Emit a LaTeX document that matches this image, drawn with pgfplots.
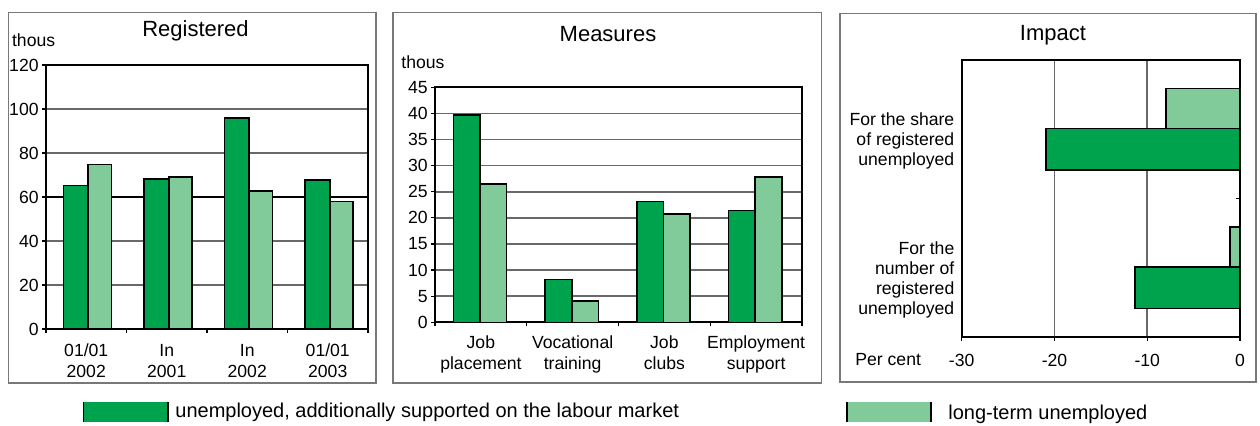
\documentclass[border=0pt]{standalone}
\usepackage{fontspec}
\setmainfont{Liberation Sans}
\usepackage{pgfplots}
\pgfplotsset{compat=1.18}
\definecolor{darkg}{RGB}{0,163,77}
\definecolor{lightg}{RGB}{129,203,155}
\definecolor{gridc}{RGB}{105,105,105}
\definecolor{framec}{RGB}{120,120,120}
\pgfplotsset{
 panel/.style={scale only axis, anchor=south west,
   axis line style={line width=0.9pt},
   /pgf/number format/assume math mode=true,
   tick style={black, line width=0.6pt}, tick align=outside,
   major tick length=2pt, minor tick length=2pt,
   grid style={gridc, line width=0.8pt},
   ticklabel style={font=\fontsize{8.8}{10}\selectfont, inner sep=1.5pt},
 },
 dbar/.style={fill=darkg, draw=black, line width=0.8pt},
 lbar/.style={fill=lightg, draw=black, line width=0.8pt},
}
\begin{document}
\begin{tikzpicture}[x=1pt,y=1pt]
\useasboundingbox (0,0) rectangle (630,212.5);
% panel frames
\draw[framec, line width=0.6pt] (4.15,21) rectangle (188,206.35);
\draw[framec, line width=0.6pt] (196.5,21) rectangle (410.85,206.35);
\draw[framec, line width=0.6pt] (420,21.5) rectangle (628,205.85);
% titles
\node[anchor=base, inner sep=0, font=\fontsize{11}{13}\selectfont] at (97.75,194.15) {Registered};
\node[anchor=base, inner sep=0, font=\fontsize{11}{13}\selectfont] at (304,192) {Measures};
\node[anchor=base, inner sep=0, font=\fontsize{11}{13}\selectfont] at (526.5,192.5) {Impact};
\node[anchor=base west, inner sep=0, font=\fontsize{8.8}{10}\selectfont] at (5.85,189.5) {thous};
\node[anchor=base west, inner sep=0, font=\fontsize{8.8}{10}\selectfont] at (200.5,178.3) {thous};
\node[anchor=base west, inner sep=0, font=\fontsize{8.8}{10}\selectfont] at (427.5,30) {Per cent};

% Panel 1: Registered
\begin{axis}[panel, at={(23pt,48pt)}, width=161pt, height=132pt,
  ybar, xmin=-0.5, xmax=3.5, ymin=0, ymax=120, ytick={0,20,...,120},
  xtick={0,1,2,3},
  xticklabels={{01/01\\2002},{In\\2001},{In\\2002},{01/01\\2003}},
  xticklabel style={align=center, font=\fontsize{8.8}{10.5}\selectfont, yshift=-3.8pt},
  major x tick style={draw=none}, minor xtick={-0.5,0.5,1.5,2.5,3.5},
  xtick pos=bottom, ytick pos=left,
  ymajorgrids,
  extra y ticks={60}, extra y tick labels={}, extra y tick style={grid style={black, line width=0.8pt}},
]
\addplot[dbar, bar width=0.31, bar shift=-0.13] coordinates {(0,65.2) (1,68.3) (2,95.8) (3,67.6)};
\addplot[lbar, bar width=0.29, bar shift=0.17] coordinates {(0,74.8) (1,69.2) (2,62.7) (3,57.9)};
\end{axis}

% Panel 2: Measures
\begin{axis}[panel, at={(217.5pt,51.35pt)}, width=183.5pt, height=117.5pt,
  ybar, xmin=-0.5, xmax=3.5, ymin=0, ymax=45, ytick={0,5,...,45},
  xtick={0,1,2,3},
  xticklabels={{Job\\placement},{Vocational\\training},{Job\\clubs},{Employment\\support}},
  xticklabel style={align=center, font=\fontsize{8.8}{10.5}\selectfont, yshift=-3pt},
  major x tick style={draw=none}, minor xtick={-0.5,0.5,1.5,2.5,3.5},
  xtick pos=bottom, ytick pos=left,
  ymajorgrids,
]
\addplot[dbar, bar width=0.29, bar shift=-0.155] coordinates {(0,39.7) (1,8.2) (2,23.1) (3,21.4)};
\addplot[lbar, bar width=0.29, bar shift=0.135] coordinates {(0,26.5) (1,4.1) (2,20.7) (3,27.8)};
\end{axis}

% Panel 3: Impact
\begin{axis}[panel, at={(480.85pt,44.15pt)}, width=139.15pt, height=138.35pt,
  xbar, xmin=-30, xmax=0, xtick={-30,-20,-10,0},
  ymin=-0.5, ymax=1.5, ytick={0,1},
  yticklabels={{For the\\number of\\registered\\unemployed},{For the share\\of registered\\unemployed}},
  yticklabel style={align=right, font=\fontsize{8.8}{10}\selectfont, yshift=-6pt},
  xticklabel style={yshift=-5pt},
  major y tick style={draw=none}, minor ytick={0.5},
  xtick pos=bottom, ytick pos=right, yticklabel pos=left,
  minor y tick style={xshift=-2pt},
  xmajorgrids,
]
\addplot[dbar, bar width=0.30, bar shift=-0.145] coordinates {(-20.9,1) (-11.3,0)};
\addplot[lbar, bar width=0.29, bar shift=0.15] coordinates {(-8,1) (-1.1,0)};
\end{axis}

% legend
\fill[darkg] (41.65,1.65) rectangle (84,11.65);
\draw[black, line width=0.8pt] (41.65,1.65) -- (41.65,11.65) (84,1.65) -- (84,11.65);
\node[anchor=base west, inner sep=0, font=\fontsize{10}{12}\selectfont] at (87.5,3.8) {unemployed, additionally supported on the labour market};
\fill[lightg] (423.35,1.65) rectangle (465.5,11.65);
\draw[black, line width=0.8pt] (423.35,1.65) -- (423.35,11.65) (465.5,1.65) -- (465.5,11.65);
\node[anchor=base west, inner sep=0, font=\fontsize{10}{12}\selectfont] at (474,3.0) {long-term unemployed};
\end{tikzpicture}
\end{document}
